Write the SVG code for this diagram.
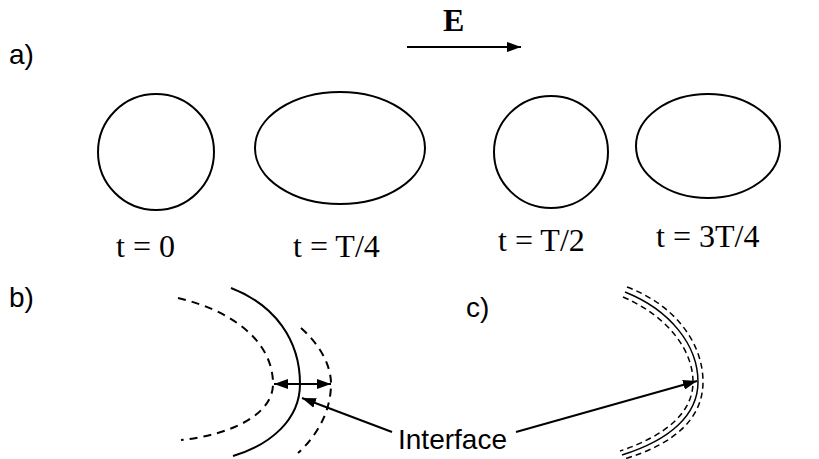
<svg xmlns="http://www.w3.org/2000/svg" width="819" height="459" viewBox="0 0 819 459">
<defs>
<marker id="ahb" viewBox="0 0 14 10" refX="14" refY="5" markerWidth="14" markerHeight="10" markerUnits="userSpaceOnUse" orient="auto-start-reverse">
<path d="M0,0 L14,5 L0,10 z" fill="#000"/>
</marker>
</defs>
<style>
.shape{fill:none;stroke:#000;stroke-width:2}
.dash{fill:none;stroke:#000;stroke-width:2;stroke-dasharray:8,6}
.thin{fill:none;stroke:#000;stroke-width:1.5}
.thindash{fill:none;stroke:#000;stroke-width:1.5;stroke-dasharray:6,4}
.lbl{font-family:"Liberation Sans",Arial,sans-serif;font-size:28px;fill:#000}
.tl{font-family:"Liberation Serif","Times New Roman",serif;font-size:32px;fill:#000}
.conn{fill:none;stroke:#000;stroke-width:2}
</style>
<rect width="819" height="459" fill="#fff"/>
<text class="lbl" x="9" y="64">a)</text>
<text class="lbl" x="9" y="307">b)</text>
<text class="lbl" x="466" y="317">c)</text>

<g id="field">
<text class="tl" x="443" y="31" font-weight="bold" font-size="28">E</text>
<line class="conn" x1="407" y1="47" x2="521" y2="47" marker-end="url(#ahb)"/>
</g>

<g id="drop-t0">
<ellipse class="shape" cx="156" cy="152" rx="58" ry="58"/>
<text class="tl" x="116" y="257">t = 0</text>
</g>
<g id="drop-t1">
<ellipse class="shape" cx="340" cy="148" rx="85" ry="56"/>
<text class="tl" x="293" y="257">t = T/4</text>
</g>
<g id="drop-t2">
<ellipse class="shape" cx="551" cy="152" rx="57" ry="56"/>
<text class="tl" x="498" y="251">t = T/2</text>
</g>
<g id="drop-t3">
<ellipse class="shape" cx="708" cy="146" rx="72" ry="52"/>
<text class="tl" x="656" y="247">t = 3T/4</text>
</g>

<g id="interface-b">
<path class="shape" d="M231,288 C275,305 300,340 300,384 C300,420 270,445 233,456"/>
<path class="dash" d="M178,298 C230,310 273,340 273,384 C273,415 230,435 181,440"/>
<path class="dash" d="M301,328 C320,345 331,365 331,384 C331,410 318,435 298,453"/>
</g>
<g id="interface-c">
<path class="thin" d="M625,292 C670,310 698,345 698,382 C698,415 670,440 622,455"/>
<path class="thindash" d="M627,287 C675,305 703,343 703,382 C703,418 675,444 624,459"/>
<path class="thindash" d="M623,297 C665,315 693,348 693,382 C693,413 665,436 620,451"/>
</g>
<g id="label-interface">
<text class="lbl" x="398" y="449">Interface</text>
</g>
<g id="connectors">
<line class="conn" x1="274" y1="384" x2="331" y2="384" marker-start="url(#ahb)" marker-end="url(#ahb)"/>
<line class="conn" x1="392" y1="432" x2="302" y2="398" marker-end="url(#ahb)"/>
<line class="conn" x1="516" y1="432" x2="697" y2="381" marker-end="url(#ahb)"/>
</g>
</svg>
